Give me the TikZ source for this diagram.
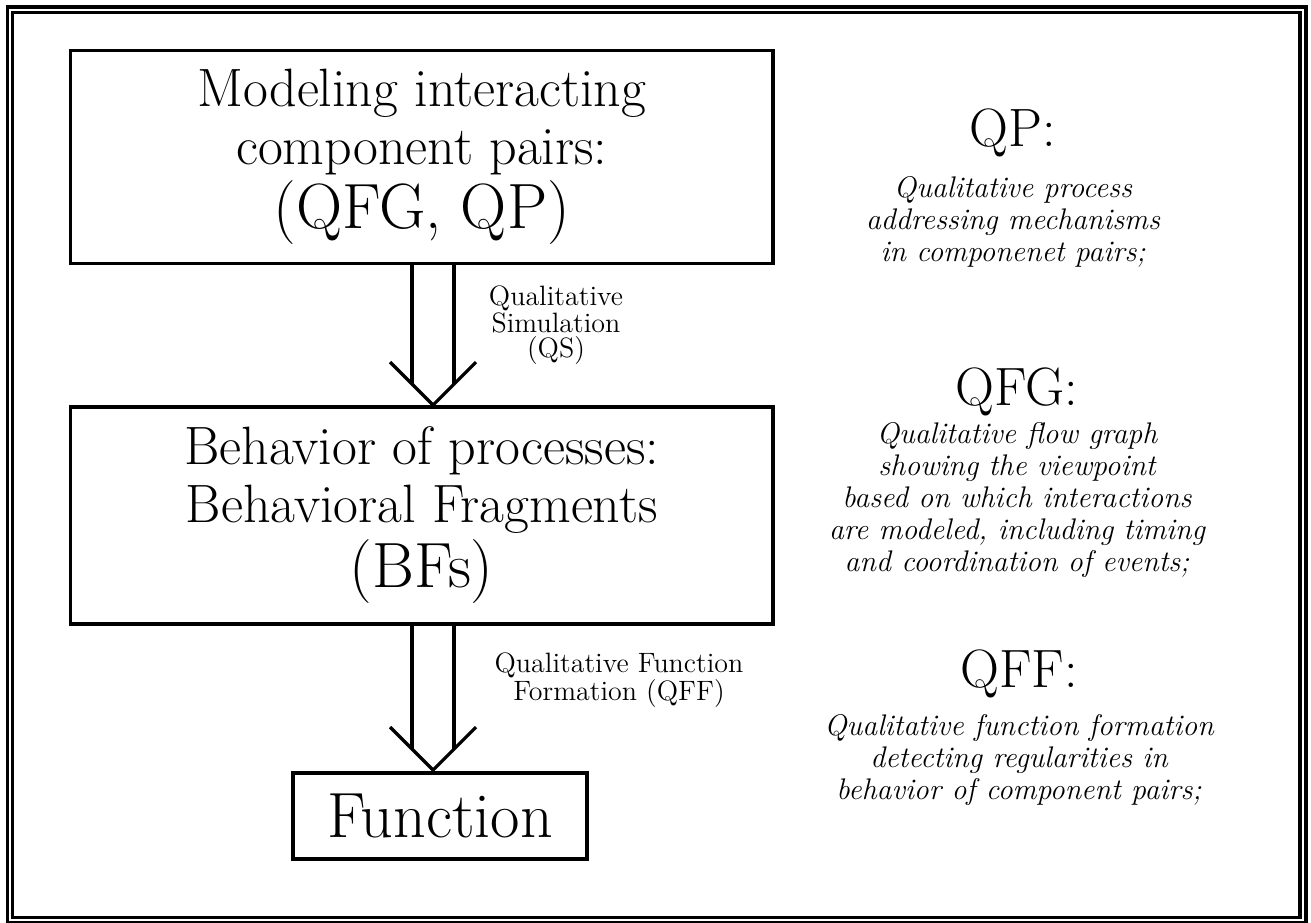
\documentclass[tikz,border=0pt]{standalone}
\usepackage{tikz}
\usetikzlibrary{calc}
\tikzset{every path/.style={line width=1.6pt}}
\tikzset{
  stage/.style={draw, line width=1.6pt, align=center, inner sep=0pt, font=\fontsize{27}{29}\selectfont},
  steplabel/.style={align=center, font=\fontsize{14}{12.5}\selectfont},
  abbr/.style={font=\fontsize{27}{29}\selectfont},
  gloss/.style={align=center, font=\fontsize{14.9}{16}\selectfont\itshape}
}
\newcommand{\bigline}[1]{{\fontsize{32}{32}\selectfont #1}}

\begin{document}
\begin{tikzpicture}[x=0.5pt,y=-0.5pt]
\useasboundingbox (0,0) rectangle (1311,922);
\draw (7.5,7) rectangle (1306,923);
\draw (12.5,12.5) rectangle (1300,917.5);

\node[stage, minimum width=351.25pt, minimum height=106.5pt] (model) at (421.75,157)
  {Modeling interacting\\component pairs:\\[2pt]\bigline{(QFG, QP)}};
\node[stage, minimum width=351.25pt, minimum height=108.5pt] (behavior) at (421.75,515.5)
  {Behavior of processes:\\Behavioral Fragments\\[2pt]\bigline{(BFs)}};
\node[stage, minimum width=147pt, minimum height=43pt, font=\fontsize{32}{32}\selectfont] (function) at (440,816) {Function};

\coordinate (tip1) at (433,405);
\draw (model.south -| tip1) ++(-21,0) -- ($(tip1)+(-21,-21)$);
\draw (model.south -| tip1) ++(21,0) -- ($(tip1)+(21,-21)$);
\draw ($(tip1)+(-43,-43)$) -- (tip1) -- ($(tip1)+(43,-43)$);
\node[steplabel] (qs) at (556,325) {Qualitative\\Simulation\\(QS)};

\coordinate (tip2) at (433,770);
\draw (behavior.south -| tip2) ++(-21,0) -- ($(tip2)+(-21,-21)$);
\draw (behavior.south -| tip2) ++(21,0) -- ($(tip2)+(21,-21)$);
\draw ($(tip2)+(-43,-43)$) -- (tip2) -- ($(tip2)+(43,-43)$);
\node[steplabel] (qffstep) at (619,680) {Qualitative Function\\Formation (QFF)};

\node[abbr] (qp) at (1013,133) {QP:};
\node[gloss] (qp text) at (1013,222) {Qualitative process\\addressing mechanisms\\in componenet pairs;};
\node[abbr] (qfg) at (1017,392) {QFG:};
\node[gloss] (qfg text) at (1017,500) {Qualitative flow graph\\showing the viewpoint\\based on which interactions\\are modeled, including timing\\and coordination of events;};
\node[abbr] (qff) at (1019,674) {QFF:};
\node[gloss] (qff text) at (1019,760) {Qualitative function formation\\detecting regularities in\\behavior of component pairs;};
\end{tikzpicture}
\end{document}
